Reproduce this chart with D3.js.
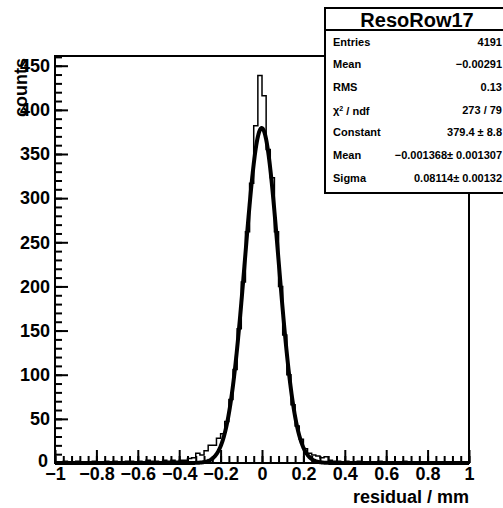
<!DOCTYPE html>
<html><head><meta charset="utf-8">
<script src="https://cdn.jsdelivr.net/npm/d3@7"></script>
<style>
html,body{margin:0;padding:0;background:#fff;}
svg{display:block;font-family:"Liberation Sans",Arial,Helvetica,sans-serif;font-weight:bold;}
</style></head>
<body>
<svg id="c" width="503" height="508"></svg>
<script>
// ---- data ----
const histRange = [-1, 1];
const counts = [
  1,0,2,1,1,2,1,0,1,2, 1,1,2,1,2,1,1,2,2,1,
  2,1,3,2,2,1,3,2,3,2, 3,3,5,6,11,9,14,20,20,28,
  33,47,72,106,152,205,262,317,382,439,
  416,355,323,262,200,145,100,66,42,27,
  16,11,9,8,6,7,3,2,2,1, 2,1,1,2,1,1,0,1,2,1,
  1,1,0,1,2,1,1,0,1,1, 1,0,1,1,0,1,1,0,1,1
];
const fitConstant = 379.4, fitMean = -0.001368, fitSigma = 0.08114;
const xTicks = [-1,-0.8,-0.6,-0.4,-0.2,0,0.2,0.4,0.6,0.8,1];
const yTicks = [0,50,100,150,200,250,300,350,400,450];
const statTitle = "ResoRow17";
const statLabels = ["Entries","Mean","RMS","χ2 / ndf","Constant","Mean","Sigma"];
const statValues = ["4191","\u22120.00291","0.13","273 / 79","379.4 \u00b1 8.8","\u22120.001368\u00b1 0.001307","0.08114\u00b1 0.00132"];

// ---- layout ----
const L=55,R=469,T=56,B=463;
const svg=d3.select("#c");
const x=d3.scaleLinear().domain(histRange).range([L,R]);
const y=d3.scaleLinear().domain([0,461]).range([B,T]);
const nb=counts.length, bw=(histRange[1]-histRange[0])/nb;

// histogram
const pts=counts.map((c,i)=>[histRange[0]+i*bw,c]);
pts.push([histRange[1],counts[nb-1]]);
svg.append("path").attr("d",d3.line().x(d=>x(d[0])).y(d=>y(d[1])).curve(d3.curveStepAfter)(pts))
  .attr("fill","none").attr("stroke","#000").attr("stroke-width",1.5);

// fit curve
const g=v=>fitConstant*Math.exp(-0.5*((v-fitMean)/fitSigma)**2);
const cx=d3.range(0,801).map(i=>histRange[0]+i*(histRange[1]-histRange[0])/800);
svg.append("path").attr("d",d3.line().x(d=>x(d)).y(d=>y(g(d)))(cx))
  .attr("fill","none").attr("stroke","#000").attr("stroke-width",4).attr("stroke-linejoin","round");

// axes
const fmt=d=>d3.format("")(d);
const xa=svg.append("g").attr("transform",`translate(0,${B})`)
  .call(d3.axisBottom(x).tickValues(xTicks).tickFormat(fmt).tickSizeInner(-13).tickSizeOuter(0).tickPadding(4));
const xm=svg.append("g").attr("transform",`translate(0,${B})`)
  .call(d3.axisBottom(x).tickValues(d3.range(-1,1.0001,0.04)).tickFormat("").tickSizeInner(-7).tickSizeOuter(0));
const ya=svg.append("g").attr("transform",`translate(${L},0)`)
  .call(d3.axisLeft(y).tickValues(yTicks).tickSizeInner(-13).tickSizeOuter(0).tickPadding(5));
const ym=svg.append("g").attr("transform",`translate(${L},0)`)
  .call(d3.axisLeft(y).tickValues(d3.range(0,461,10)).tickFormat("").tickSizeInner(-7).tickSizeOuter(0));
[xa,xm,ya,ym].forEach(a=>{a.select(".domain").remove();a.selectAll("line").attr("stroke","#000").attr("stroke-width",2);
  a.selectAll("text").attr("fill","#000").style("font-size","18px").style("font-family","Liberation Sans, Arial, sans-serif").style("font-weight","bold");});
// nudge the y "0" label so it just clears the x "-1" label (as in the reference)
ya.selectAll(".tick").filter(d=>d===0).select("text").attr("dy","0.2em").attr("x",-7);

// frame
svg.append("rect").attr("x",L).attr("y",T).attr("width",R-L).attr("height",B-T)
  .attr("fill","none").attr("stroke","#000").attr("stroke-width",2);

// axis titles
svg.append("text").attr("transform",`translate(27,${T+2}) rotate(-90)`).attr("text-anchor","end")
  .style("font-size","18px").text("counts");
svg.append("text").attr("x",R).attr("y",503).attr("text-anchor","end")
  .style("font-size","18px").text("residual / mm");

// stats box
const sb={x:325,y:8,w:185,h:185};
svg.append("rect").attr("x",sb.x).attr("y",sb.y).attr("width",sb.w).attr("height",sb.h)
  .attr("fill","#fff").attr("stroke","#000").attr("stroke-width",2);
svg.append("line").attr("x1",sb.x).attr("x2",sb.x+sb.w).attr("y1",30).attr("y2",30).attr("stroke","#000").attr("stroke-width",2);
svg.append("text").attr("x",417).attr("y",27).attr("text-anchor","middle").style("font-size","20px").text(statTitle);
statLabels.forEach((lab,i)=>{
  const yy=41.7+i*22.67;
  const t=svg.append("text").attr("x",333).attr("y",yy).attr("dy","0.35em").style("font-size","11px");
  if(lab.startsWith("χ2")){t.append("tspan").text("χ");t.append("tspan").attr("dy","-0.4em").style("font-size","7px").text("2");t.append("tspan").attr("dy","0.4em").text(" / ndf");}
  else t.text(lab);
  svg.append("text").attr("x",502).attr("y",yy).attr("dy","0.35em").attr("text-anchor","end").style("font-size","11px").text(statValues[i]);
});
</script>
</body></html>
